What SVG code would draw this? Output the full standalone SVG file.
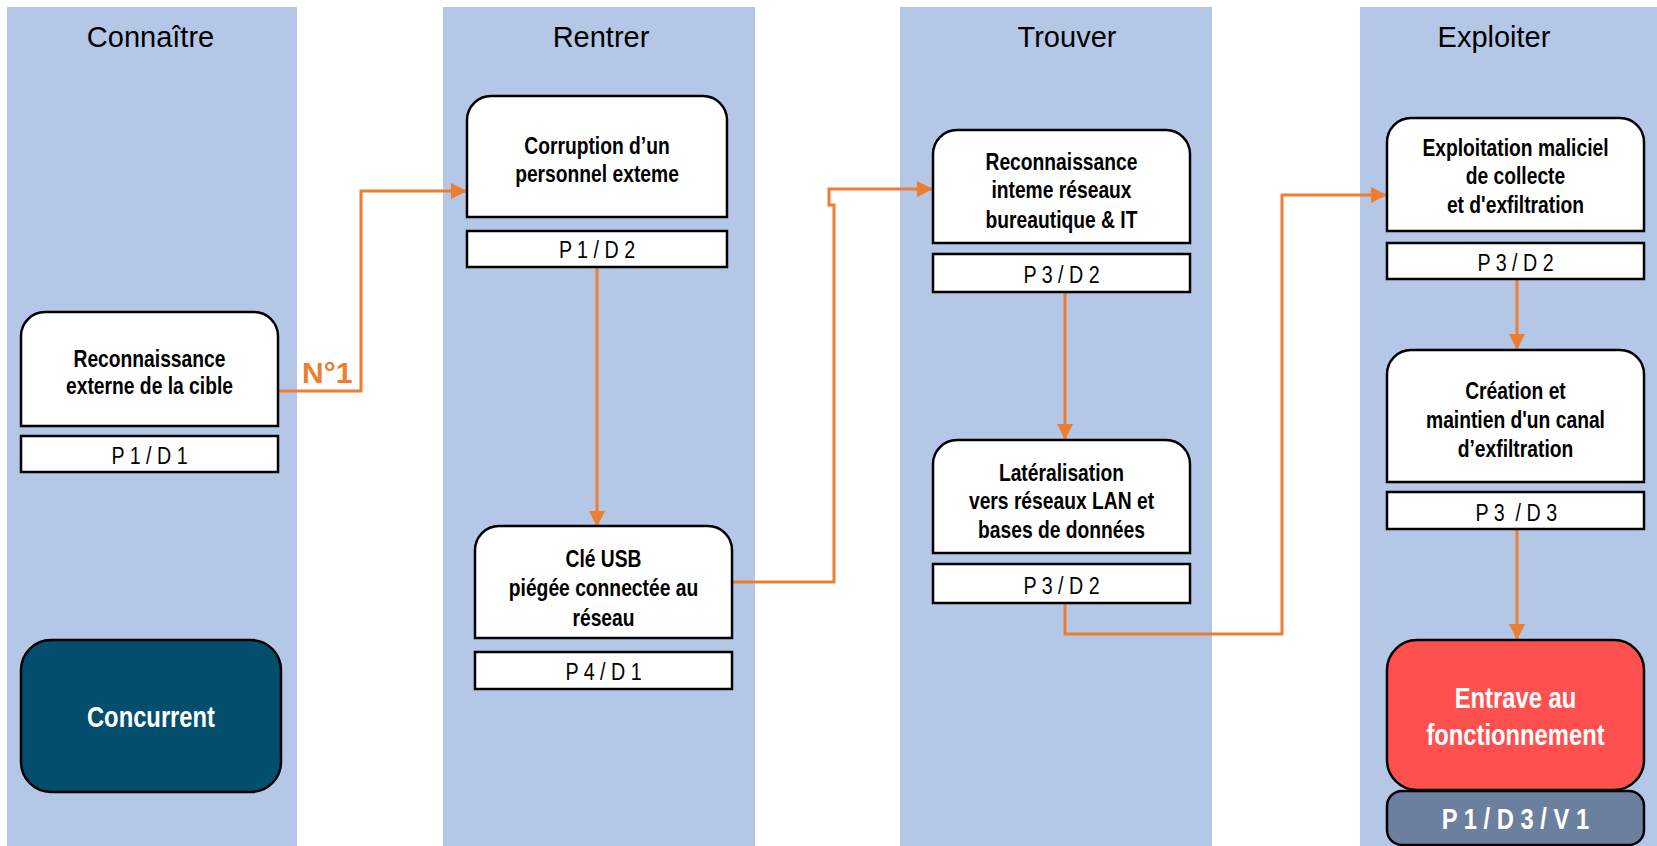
<svg xmlns="http://www.w3.org/2000/svg" width="1657" height="846" viewBox="0 0 1657 846">
<style>
.col{fill:#B4C7E7}
.hdr{font-family:"Liberation Sans",Arial,sans-serif;font-size:29px;fill:#000;text-anchor:middle}
.box{fill:#fff;stroke:#000;stroke-width:2.5}
.nt{font-family:"Liberation Sans",Arial,sans-serif;font-weight:bold;font-size:23.5px;fill:#000;text-anchor:middle}
.lt{font-family:"Liberation Sans",Arial,sans-serif;font-size:24px;fill:#000;text-anchor:middle}
.wt{font-family:"Liberation Sans",Arial,sans-serif;font-weight:bold;font-size:29px;fill:#fff;text-anchor:middle}
.con{fill:none;stroke:#ED7D31;stroke-width:3}
</style>
<defs>
<marker id="ah" markerUnits="userSpaceOnUse" markerWidth="16" markerHeight="16" refX="16" refY="8" orient="auto">
<path d="M0,0 L16,8 L0,16 Z" fill="#ED7D31"/>
</marker>
</defs>
<g id="columns">
<rect class="col" x="7" y="7" width="290" height="839"/>
<rect class="col" x="443" y="7" width="312" height="839"/>
<rect class="col" x="900" y="7" width="312" height="839"/>
<rect class="col" x="1360" y="7" width="300" height="839"/>
<text class="hdr" x="150.5" y="47">Connaître</text>
<text class="hdr" x="601" y="47">Rentrer</text>
<text class="hdr" x="1067" y="47">Trouver</text>
<text class="hdr" x="1494" y="47">Exploiter</text>
</g>
<g id="connectors">
<path class="con" d="M278,391 H361 V191 H467" marker-end="url(#ah)"/>
<path class="con" d="M597,267 V527" marker-end="url(#ah)"/>
<path class="con" d="M732,582 H834 V205 H829 V189 H933" marker-end="url(#ah)"/>
<path class="con" d="M1065,292 V440" marker-end="url(#ah)"/>
<path class="con" d="M1065,603 V634 H1282 V195 H1387" marker-end="url(#ah)"/>
<path class="con" d="M1517,279 V350" marker-end="url(#ah)"/>
<path class="con" d="M1517,529 V640" marker-end="url(#ah)"/>
<text x="302" y="383" font-family="Liberation Sans,Arial,sans-serif" font-weight="bold" font-size="30" fill="#ED7D31">N°1</text>
</g>
<g id="n1">
<path class="box" d="M21,426 V336 A24,24 0 0 1 45,312 H254 A24,24 0 0 1 278,336 V426 Z"/>
<rect class="box" x="21" y="436" width="257" height="36"/>
<g transform="matrix(0.82 0 0 1 26.91 0)">
<text class="nt" x="149.5" y="367">Reconnaissance</text>
<text class="nt" x="149.5" y="394">externe de la cible</text>
<text class="lt" x="149.5" y="464">P 1 / D 1</text>
</g>
</g>
<g id="n-concurrent">
<rect x="21" y="640" width="260" height="152" rx="30" fill="#034E6D" stroke="#000" stroke-width="2.5"/>
<g transform="matrix(0.82 0 0 1 27.18 0)">
<text class="wt" x="151" y="727">Concurrent</text>
</g>
</g>
<g id="n2">
<path class="box" d="M467,217 V120 A24,24 0 0 1 491,96 H703 A24,24 0 0 1 727,120 V217 Z"/>
<rect class="box" x="467" y="231" width="260" height="36"/>
<g transform="matrix(0.82 0 0 1 107.46 0)">
<text class="nt" x="597" y="154">Corruption d’un</text>
<text class="nt" x="597" y="182">personnel exteme</text>
<text class="lt" x="597" y="258">P 1 / D 2</text>
</g>
</g>
<g id="n3">
<path class="box" d="M475,638 V550 A24,24 0 0 1 499,526 H708 A24,24 0 0 1 732,550 V638 Z"/>
<rect class="box" x="475" y="652" width="257" height="37"/>
<g transform="matrix(0.82 0 0 1 108.63 0)">
<text class="nt" x="603.5" y="567">Clé USB</text>
<text class="nt" x="603.5" y="596">piégée connectée au</text>
<text class="nt" x="603.5" y="626">réseau</text>
<text class="lt" x="603.5" y="680">P 4 / D 1</text>
</g>
</g>
<g id="n4">
<path class="box" d="M933,243 V154 A24,24 0 0 1 957,130 H1166 A24,24 0 0 1 1190,154 V243 Z"/>
<rect class="box" x="933" y="254" width="257" height="38"/>
<g transform="matrix(0.82 0 0 1 191.07 0)">
<text class="nt" x="1061.5" y="170">Reconnaissance</text>
<text class="nt" x="1061.5" y="198">inteme réseaux</text>
<text class="nt" x="1061.5" y="228">bureautique &amp; IT</text>
<text class="lt" x="1061.5" y="283">P 3 / D 2</text>
</g>
</g>
<g id="n5">
<path class="box" d="M933,553 V464 A24,24 0 0 1 957,440 H1166 A24,24 0 0 1 1190,464 V553 Z"/>
<rect class="box" x="933" y="564" width="257" height="39"/>
<g transform="matrix(0.82 0 0 1 191.07 0)">
<text class="nt" x="1061.5" y="481">Latéralisation</text>
<text class="nt" x="1061.5" y="509">vers réseaux LAN et</text>
<text class="nt" x="1061.5" y="538">bases de données</text>
<text class="lt" x="1061.5" y="594">P 3 / D 2</text>
</g>
</g>
<g id="n6">
<path class="box" d="M1387,231 V142 A24,24 0 0 1 1411,118 H1620 A24,24 0 0 1 1644,142 V231 Z"/>
<rect class="box" x="1387" y="243" width="257" height="36"/>
<g transform="matrix(0.82 0 0 1 272.79 0)">
<text class="nt" x="1515.5" y="156">Exploitation maliciel</text>
<text class="nt" x="1515.5" y="184">de collecte</text>
<text class="nt" x="1515.5" y="213">et d'exfiltration</text>
<text class="lt" x="1515.5" y="271">P 3 / D 2</text>
</g>
</g>
<g id="n7">
<path class="box" d="M1387,482 V374 A24,24 0 0 1 1411,350 H1620 A24,24 0 0 1 1644,374 V482 Z"/>
<rect class="box" x="1387" y="492" width="257" height="37"/>
<g transform="matrix(0.82 0 0 1 272.79 0)">
<text class="nt" x="1515.5" y="399">Création et</text>
<text class="nt" x="1515.5" y="428">maintien d'un canal</text>
<text class="nt" x="1515.5" y="457">d’exfiltration</text>
<text class="lt" x="1516.5" y="521" xml:space="preserve">P 3  / D 3</text>
</g>
</g>
<g id="n8">
<rect x="1387" y="640" width="257" height="150" rx="30" fill="#FF5050" stroke="#000" stroke-width="2.5"/>
<rect x="1387" y="791" width="257" height="54" rx="15" fill="#6B7F9E" stroke="#000" stroke-width="2.5"/>
<g transform="matrix(0.82 0 0 1 272.79 0)">
<text class="wt" x="1515.5" y="708">Entrave au</text>
<text class="wt" x="1515.5" y="745">fonctionnement</text>
<text class="wt" x="1515.5" y="829">P 1 / D 3 / V 1</text>
</g>
</g>
</svg>
